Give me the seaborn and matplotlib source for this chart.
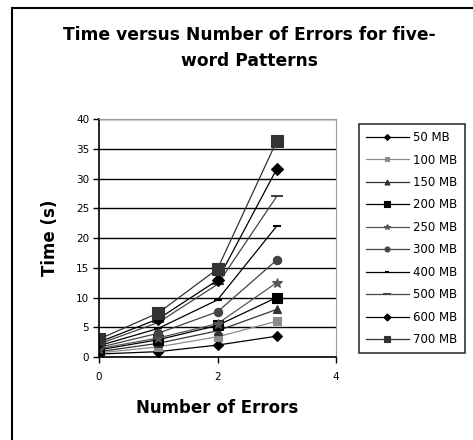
import pandas as pd
import numpy as np
import matplotlib.pyplot as plt
import matplotlib.patches as patches
import seaborn as sb

# Data
errors = [0, 1, 2, 3]
sizes = ["50 MB", "100 MB", "150 MB", "200 MB", "250 MB",
         "300 MB", "400 MB", "500 MB", "600 MB", "700 MB"]
t_50 = [0.5, 0.9, 2.0, 3.5]
t_100 = [0.7, 1.7, 3.4, 6.0]
t_150 = [0.9, 2.3, 4.4, 8.0]
t_200 = [1.2, 2.9, 5.3, 10.0]
t_250 = [1.4, 3.2, 5.6, 12.5]
t_300 = [1.6, 4.0, 7.6, 16.3]
t_400 = [1.9, 4.8, 9.6, 22.0]
t_500 = [2.2, 5.8, 12.2, 27.0]
t_600 = [2.5, 6.4, 12.9, 31.6]
t_700 = [3.0, 7.4, 14.8, 36.3]
times = [t_50, t_100, t_150, t_200, t_250, t_300, t_400, t_500, t_600, t_700]

df = pd.DataFrame({
    "Errors": errors * len(sizes),
    "Time": [v for s in times for v in s],
    "Size": [s for s in sizes for _ in errors],
})

# marker / colour per series (Excel-ish grey scale)
styles = {
    "50 MB": ("D", "black", 5),
    "100 MB": ("s", "#8c8c8c", 6),
    "150 MB": ("^", "#333333", 6),
    "200 MB": ("s", "black", 7),
    "250 MB": ("*", "#555555", 7),
    "300 MB": ("o", "#444444", 6),
    "400 MB": ("_", "black", 6),
    "500 MB": ("_", "#444444", 9),
    "600 MB": ("D", "black", 6),
    "700 MB": ("s", "#333333", 8),
}

plt.rcParams['font.family'] = ['DejaVu Sans']
fig = plt.figure(figsize=(4.73, 4.40), dpi=100)
ax = fig.add_axes([99/473, 1-357/440, 237/473, 238/440])

for size in sizes:
    mk, col, ms = styles[size]
    sb.lineplot(data=df[df["Size"] == size], x="Errors", y="Time", ax=ax,
                color=col, marker=mk, markersize=ms, markeredgecolor=col,
                markeredgewidth=1.5 if mk == "_" else 0.8, linewidth=0.9,
                label=size, legend=False)

ax.set_xlim(0, 4)
ax.set_ylim(0, 40)
ax.set_xticks([0, 2, 4])
ax.set_yticks(range(0, 41, 5))
ax.tick_params(labelsize=7.5, length=4, width=1, direction='out')
ax.tick_params(axis='x', pad=7)
ax.tick_params(axis='y', pad=3)
ax.grid(axis='y', color='black', linewidth=1)
ax.set_axisbelow(True)
for s in ['top', 'right']:
    ax.spines[s].set_color('#999999')
for s in ['left', 'bottom']:
    ax.spines[s].set_color('black')
    ax.spines[s].set_linewidth(1.2)

ax.set_xlabel("Number of Errors", fontsize=12, fontweight='bold', labelpad=12)
ax.set_ylabel("Time (s)", fontsize=12, fontweight='bold', labelpad=12)

fig.suptitle("Time versus Number of Errors for five-\nword Patterns",
             x=249/473, y=1-48/440, va='center', fontsize=12.3,
             fontweight='bold', linespacing=1.55)

handles, labels = ax.get_legend_handles_labels()
leg = fig.legend(handles, labels, loc='upper left',
                 bbox_to_anchor=(359/473, 1-124/440), borderaxespad=0,
                 fontsize=8.5, frameon=True, fancybox=False,
                 edgecolor='black', labelspacing=0.8, handlelength=3.6,
                 handletextpad=0.4, borderpad=0.6)
leg.get_frame().set_linewidth(1.2)
for line in leg.get_lines():
    line.set_markersize(line.get_markersize() * 0.6)

# outer chart frame (runs off the right/bottom of the image)
fig.patches.append(patches.Rectangle((12/473, -0.1), 1.0, 1.1 - 8/440,
                                     transform=fig.transFigure, fill=False,
                                     edgecolor='black', linewidth=1.5))

fig.savefig("out.png", dpi=100)
